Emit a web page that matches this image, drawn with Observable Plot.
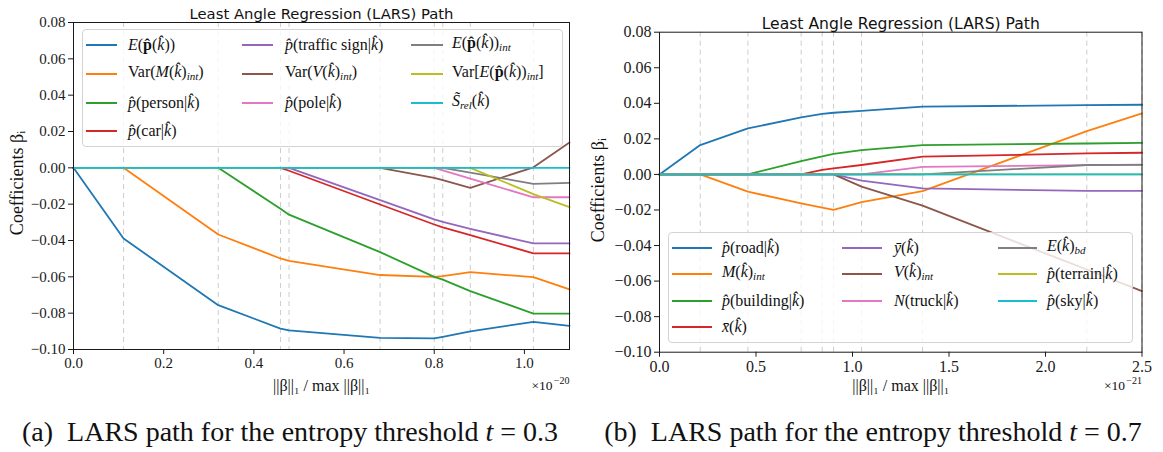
<!DOCTYPE html>
<html><head><meta charset="utf-8">
<script src="https://cdn.jsdelivr.net/npm/d3@7"></script>
<script src="https://cdn.jsdelivr.net/npm/@observablehq/plot@0.6"></script>
<style>
body{margin:0;background:#fff;}
#wrap{position:relative;width:1163px;height:452px;overflow:hidden;font-family:"Liberation Serif",serif;color:#111;}
.panel{position:absolute;top:0;}
.legend{position:absolute;background:rgba(255,255,255,0.8);border:1px solid #d3d3d3;border-radius:4px;box-sizing:border-box;}
.sw{position:absolute;height:2px;}
.lab{position:absolute;font-size:16px;line-height:20px;white-space:nowrap;transform:translateY(-50%);}
.lab sub{font-size:11px;vertical-align:-3px;}
.cap{position:absolute;font-size:28px;line-height:32px;white-space:nowrap;transform:translateX(-50%);}
</style></head><body><div id="wrap"></div>
<script>
// ---------- DATA: panel (a), t = 0.3 ----------
const aX = [0, 0.111, 0.321, 0.459, 0.478, 0.68, 0.80, 0.819, 0.88, 1.02, 1.1];
const aNames = ["E(p(k))", "Var(M(k)int)", "p(person|k)", "p(car|k)", "p(traffic sign|k)", "Var(V(k)int)", "p(pole|k)", "E(p(k))int", "Var[E(p(k))int]", "Srel(k)"];
const aLabels = [
  "<i>E</i>(<b>p&#770;</b>(<i>k&#770;</i>))",
  "Var(<i>M</i>(<i>k&#770;</i>)<sub><i>int</i></sub>)",
  "<i>p&#770;</i>(person|<i>k&#770;</i>)",
  "<i>p&#770;</i>(car|<i>k&#770;</i>)",
  "<i>p&#770;</i>(traffic sign|<i>k&#770;</i>)",
  "Var(<i>V</i>(<i>k&#770;</i>)<sub><i>int</i></sub>)",
  "<i>p&#770;</i>(pole|<i>k&#770;</i>)",
  "<i>E</i>(<b>p&#770;</b>(<i>k&#770;</i>))<sub><i>int</i></sub>",
  "Var[<i>E</i>(<b>p&#770;</b>(<i>k&#770;</i>))<sub><i>int</i></sub>]",
  "<i>S&#771;</i><sub><i>rel</i></sub>(<i>k&#770;</i>)"
];
const aE_p      = [0, -0.0389, -0.0756, -0.0885, -0.0895, -0.0936, -0.0939, -0.0930, -0.0900, -0.0848, -0.0870];
const aVarM     = [0, 0, -0.0367, -0.0499, -0.0512, -0.0590, -0.0600, -0.0596, -0.0574, -0.0602, -0.0669];
const aPerson   = [0, 0, 0, -0.0225, -0.0258, -0.0464, -0.0600, -0.0615, -0.0679, -0.0802, -0.0802];
const aCar      = [0, 0, 0, 0, -0.0016, -0.0202, -0.0312, -0.0328, -0.0370, -0.0471, -0.0471];
const aTraffic  = [0, 0, 0, 0, 0, -0.0178, -0.0284, -0.0298, -0.0336, -0.0416, -0.0416];
const aVarV     = [0, 0, 0, 0, 0, 0, -0.0055, -0.0068, -0.0110, 0.0003, 0.0140];
const aPole     = [0, 0, 0, 0, 0, 0, 0, -0.0014, -0.0060, -0.0162, -0.0162];
const aE_pInt   = [0, 0, 0, 0, 0, 0, 0, 0, -0.0027, -0.0088, -0.0083];
const aVarE     = [0, 0, 0, 0, 0, 0, 0, 0, 0, -0.0145, -0.0216];
const aSrel     = [0, 0, 0, 0, 0, 0, 0, 0, 0, 0, 0];
const aXTicks = [0, 0.2, 0.4, 0.6, 0.8, 1.0];

// ---------- DATA: panel (b), t = 0.7 ----------
const bX = [0, 0.211, 0.458, 0.734, 0.843, 0.902, 1.047, 1.363, 2.214, 2.5];
const bNames = ["p(road|k)", "M(k)int", "p(building|k)", "xbar(k)", "ybar(k)", "V(k)int", "N(truck|k)", "E(k)bd", "p(terrain|k)", "p(sky|k)"];
const bLabels = [
  "<i>p&#770;</i>(road|<i>k&#770;</i>)",
  "<i>M</i>(<i>k&#770;</i>)<sub><i>int</i></sub>",
  "<i>p&#770;</i>(building|<i>k&#770;</i>)",
  "<i>x&#772;</i>(<i>k&#770;</i>)",
  "<i>y&#772;</i>(<i>k&#770;</i>)",
  "<i>V</i>(<i>k&#770;</i>)<sub><i>int</i></sub>",
  "<i>N</i>(truck|<i>k&#770;</i>)",
  "<i>E</i>(<i>k&#770;</i>)<sub><i>bd</i></sub>",
  "<i>p&#770;</i>(terrain|<i>k&#770;</i>)",
  "<i>p&#770;</i>(sky|<i>k&#770;</i>)"
];
const bRoad     = [0, 0.0165, 0.0259, 0.0321, 0.0340, 0.0347, 0.0358, 0.0381, 0.0390, 0.0392];
const bM        = [0, 0, -0.0097, -0.0163, -0.0187, -0.0200, -0.0156, -0.0094, 0.0244, 0.0343];
const bBuilding = [0, 0, 0, 0.0075, 0.0102, 0.0115, 0.0137, 0.0165, 0.0174, 0.0178];
const bXbar     = [0, 0, 0, 0, 0.0025, 0.0034, 0.0053, 0.0100, 0.0118, 0.0122];
const bYbar     = [0, 0, 0, 0, 0, 0, -0.0035, -0.0079, -0.0093, -0.0093];
const bV        = [0, 0, 0, 0, 0, 0, -0.0069, -0.0176, -0.0535, -0.0656];
const bTruck    = [0, 0, 0, 0, 0, 0, 0, 0.0043, 0.0052, 0.0055];
const bEbd      = [0, 0, 0, 0, 0, 0, 0, 0, 0.0053, 0.0054];
const bTerrain  = [0, 0, 0, 0, 0, 0, 0, 0, 0, 0];
const bSky      = [0, 0, 0, 0, 0, 0, 0, 0, 0, 0];
const bXTicks = [0, 0.5, 1.0, 1.5, 2.0, 2.5];

const yTicks = [-0.10, -0.08, -0.06, -0.04, -0.02, 0, 0.02, 0.04, 0.06, 0.08];
const tab10 = ["#1f77b4", "#ff7f0e", "#2ca02c", "#d62728", "#9467bd", "#8c564b", "#e377c2", "#7f7f7f", "#bcbd22", "#17becf"];
const title = "Least Angle Regression (LARS) Path";
const xLabel = "||\u03B2||\u2081 / max ||\u03B2||\u2081";
const yLabel = "Coefficients \u03B2\u1D62";

// ---------- build ----------
const SERIF = "'Liberation Serif', serif";
const SANS = "'DejaVu Sans', sans-serif";
const aVals = [aE_p, aVarM, aPerson, aCar, aTraffic, aVarV, aPole, aE_pInt, aVarE, aSrel];
const bVals = [bRoad, bM, bBuilding, bXbar, bYbar, bV, bTruck, bEbd, bTerrain, bSky];
const rows = (X, names, vals) => names.flatMap((n, i) => X.map((x, j) => ({x, y: vals[i][j], s: n})));
const yFmt = d => (d < 0 ? "\u2212" : "") + Math.abs(d).toFixed(2);
const xFmt = d => d.toFixed(1);

function panel(o) {
  const off = o.bottom - 349;
  const svg = Plot.plot({
    width: o.width, height: 380,
    marginLeft: o.ml, marginRight: o.mr, marginTop: o.mt, marginBottom: 380 - o.bottom,
    style: {fontSize: o.fs + "px", color: "#1a1a1a", background: "transparent", overflow: "visible"},
    x: {domain: [0, o.X[o.X.length - 1]], label: null},
    y: {domain: [-0.1, 0.08], label: null},
    color: {domain: o.names, range: tab10},
    marks: [
      Plot.ruleX(o.X, {stroke: "#cccccc", strokeDasharray: "5,4", strokeWidth: 1}),
      Plot.line(rows(o.X, o.names, o.vals), {x: "x", y: "y", z: "s", stroke: "s", strokeWidth: 1.8}),
      Plot.frame({stroke: "#1a1a1a", strokeWidth: 1}),
      Plot.axisX({ticks: o.xTicks, tickFormat: xFmt, tickSize: 5, tickPadding: 3, label: null, fontSize: o.fs}),
      Plot.axisY({ticks: yTicks, tickFormat: yFmt, tickSize: 5, tickPadding: 3, label: null, fontSize: o.fs}),
      Plot.text([title], {frameAnchor: "top", dy: -14, fontSize: o.tfs, fill: "#111"}),
      Plot.text([yLabel], {frameAnchor: "left", textAnchor: "middle", lineAnchor: "middle", rotate: -90, dx: o.ydx, dy: o.ydy, fontSize: 18, fill: "#111"}),
      Plot.text([xLabel], {frameAnchor: "bottom", textAnchor: "middle", lineAnchor: "middle", dy: 36 - off, fontSize: 16, fill: "#111"}),
      Plot.text(["\u00D710"], {frameAnchor: "bottom-right", lineAnchor: "middle", dy: 36 - off, dx: -17, textAnchor: "end", fontSize: 13.5, fill: "#111"}),
      Plot.text([o.exp], {frameAnchor: "bottom-right", lineAnchor: "middle", dy: 31 - off, textAnchor: "end", fontSize: 10, fill: "#111"})
    ]
  });
  d3.select(svg).selectAll("text").each(function() {
    this.style.fontFamily = this.textContent === title ? SANS : SERIF;
  });
  return svg;
}

const wrap = document.getElementById("wrap");
function place(el, left) { el.classList.add("panel"); el.style.left = left + "px"; wrap.appendChild(el); }

place(panel({width: 580, ml: 73, mr: 11, mt: 22, bottom: 349, X: aX, names: aNames, vals: aVals, xTicks: aXTicks, fs: 15, tfs: 14.8, ydx: -56, ydy: -3, exp: "\u221220"}), 0);
place(panel({width: 583, ml: 79, mr: 21.5, mt: 31.7, bottom: 351.7, X: bX, names: bNames, vals: bVals, xTicks: bXTicks, fs: 16, tfs: 15.6, ydx: -61, ydy: -2, exp: "\u221221"}), 580);

function legend(box, cols, rowsY, labels) {
  const lg = document.createElement("div");
  lg.className = "legend";
  Object.assign(lg.style, {left: box[0] + "px", top: box[1] + "px", width: (box[2] - box[0]) + "px", height: (box[3] - box[1]) + "px"});
  wrap.appendChild(lg);
  const perCol = [4, 3, 3];
  let k = 0;
  cols.forEach((c, ci) => {
    for (let r = 0; r < perCol[ci]; r++, k++) {
      const sw = document.createElement("div");
      sw.className = "sw";
      Object.assign(sw.style, {left: c[0] + "px", width: (c[1] - c[0]) + "px", top: (rowsY[r] - 1) + "px", background: tab10[k]});
      wrap.appendChild(sw);
      const lb = document.createElement("div");
      lb.className = "lab";
      lb.innerHTML = labels[k];
      Object.assign(lb.style, {left: c[2] + "px", top: rowsY[r] + "px"});
      wrap.appendChild(lb);
    }
  });
}
legend([82, 29, 563, 147], [[86, 117, 128], [242, 273, 285], [411, 443, 452]], [45, 74, 103, 131], aLabels);
legend([668, 232, 1133, 343], [[672, 712, 722], [842, 882, 894], [998, 1037, 1047]], [248, 274, 301, 327], bLabels);

function caption(text, cx) {
  const d = document.createElement("div");
  d.className = "cap";
  d.innerHTML = text;
  Object.assign(d.style, {left: cx + "px", top: "416px"});
  wrap.appendChild(d);
}
caption("(a)&nbsp; LARS path for the entropy threshold <i>t</i> = 0.3", 290);
caption("(b)&nbsp; LARS path for the entropy threshold <i>t</i> = 0.7", 873);
</script></body></html>
